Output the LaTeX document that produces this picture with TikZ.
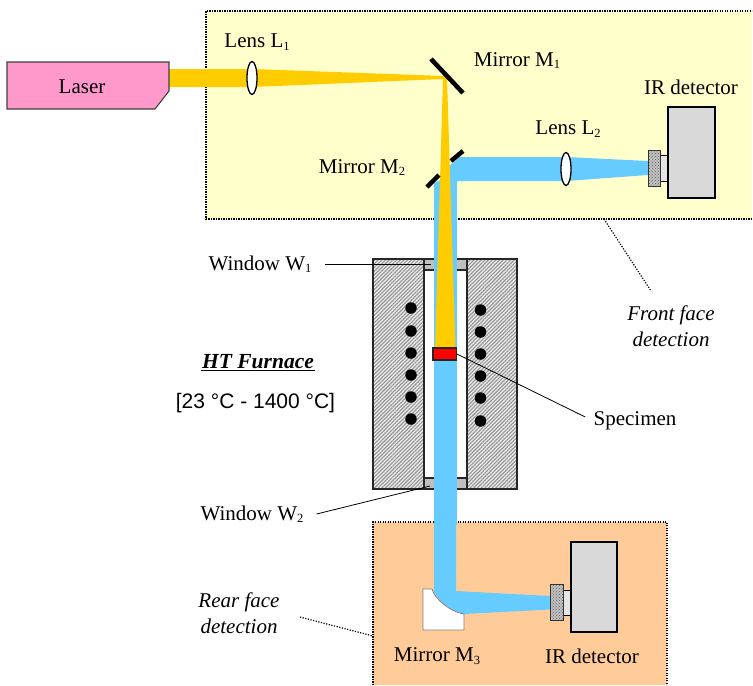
\documentclass[tikz,border=0pt]{standalone}
\usepackage{fontspec}
\setmainfont{Liberation Serif}
\setsansfont{Liberation Sans}
\usetikzlibrary{shapes.geometric,patterns,patterns.meta}
\definecolor{frontbg}{HTML}{FFFFCC}
\definecolor{rearbg}{HTML}{FFCC99}
\definecolor{laserpink}{HTML}{FF99CC}
\definecolor{beamy}{HTML}{FFCC00}
\definecolor{beamb}{HTML}{66CCFF}
\definecolor{detgray}{HTML}{D9D9D9}
\newcommand{\lowsub}[1]{\raisebox{-2.5pt}{\fontsize{12.5}{13}\selectfont #1}}
\tikzset{
  lab/.style={font=\fontsize{21}{25}\selectfont,inner sep=1pt,align=center},
  zone/.style={draw=black,line width=1.1pt,dash pattern=on 1.2pt off 1.3pt},
  lensbody/.style={ellipse,draw=black,fill=white,line width=1.3pt,minimum width=10pt,minimum height=33pt,inner sep=0pt},
  mirrorbar/.style={line width=4.5pt,black},
  block/.style={draw=black!85,line width=1.3pt,preaction={fill=black!8},pattern={Lines[angle=45,distance=2.6pt,line width=1.1pt]},pattern color=black!42},
  windowbox/.style={draw=black!85,line width=1.2pt,fill=black!25},
  heater/.style={circle,fill=black,minimum size=11.5pt,inner sep=0pt},
  detbody/.style={draw=black,line width=1.2pt,fill=detgray},
  neck/.style={draw=black,line width=1pt,fill=black!10},
  sensor/.style={draw=black!80,line width=1pt,pattern=crosshatch dots,pattern color=black!60},
  leader/.style={draw=black,line width=.8pt},
  dotleader/.style={draw=black,line width=1.2pt,dash pattern=on 1.2pt off 1.5pt}
}
\begin{document}
\begin{tikzpicture}[x=1pt,y=-1pt]
\useasboundingbox (0,0) rectangle (753,686);
% zones
\path[fill=frontbg] (206,11) rectangle (752,219);
\draw[zone] (752,219) -- (206,219) -- (206,11) -- (752,11);
\path[fill=rearbg] (373,522) rectangle (667,685);
\draw[zone] (373,685) -- (373,522) -- (667,522) -- (667,685);
% blue beam
\fill[beamb] (434,183) -- (434,592) .. controls (440,603) and (452,611) .. (464,614)
  -- (550,609.5) -- (550,596) -- (456,591) -- (457,181) -- (566,181) -- (648,175) -- (648,161) -- (566,157) -- (460,157) -- (449,166) -- (445,178) -- cycle;
% furnace
\draw[block] (373,259) rectangle (424,489);
\draw[block] (467,259) rectangle (517,489);
\draw[windowbox] (424,259) rectangle (467,270);
\draw[windowbox] (424,478) rectangle (467,489);
\fill[beamb] (434,219) rectangle (456.5,525);
% yellow beam
\fill[beamy] (169,69) -- (252,69) -- (444,76) -- (447,78) -- (455.5,350) -- (435,350) -- (443,79) -- (252,87) -- (169,87) -- cycle;
% laser
\draw[draw=black!75,line width=1.1pt,fill=laserpink] (7,62) -- (169,62) -- (169,91) -- (155,109) -- (7,109) -- cycle;
\node[lab] (laser) at (82,87) {Laser};
% lenses
\node[lensbody] (l1) at (252,78) {};
\node[lensbody] (l2) at (566,169) {};
% mirrors
\draw[mirrorbar] (431,59) -- (463,93);
\draw[mirrorbar] (427,187) -- (439,175);
\draw[mirrorbar] (451,161) -- (463,151);
% front detector
\draw[neck] (660,155) rectangle (668,181);
\draw[detbody] (668,107) rectangle (715,198);
\fill[black!25] (648,150) rectangle (660,186);
\draw[sensor] (648,150) rectangle (660,186);
% rear mirror
\draw[draw=black!50,line width=.8pt,fill=white] (423,589) -- (432,589) .. controls (434,598) and (450,612) .. (464,614) -- (464,630) -- (423,630) -- cycle;
% rear detector
\draw[neck] (563,590) rectangle (571,615);
\draw[detbody] (571,542) rectangle (617,632);
\fill[black!25] (550,584) rectangle (563,620);
\draw[sensor] (550,584) rectangle (563,620);
% specimen
\node[draw=black!85,line width=1.1pt,fill=red,minimum width=23.5pt,minimum height=12pt,inner sep=0pt] (spec) at (444.7,354) {};
% heaters
\foreach \i/\y in {1/308,2/331,3/353,4/375,5/397,6/419}{\node[heater] (hl\i) at (411,\y) {};}
\foreach \i/\y in {1/310,2/332,3/354,4/376,5/398,6/421}{\node[heater] (hr\i) at (480.5,\y) {};}
% labels
\node[lab] (labl1) at (257,42) {Lens L\lowsub{1}};
\node[lab] (labm1) at (517,60.5) {Mirror M\lowsub{1}};
\node[lab] (labl2) at (568,129) {Lens L\lowsub{2}};
\node[lab] (labm2) at (362,167.5) {Mirror M\lowsub{2}};
\node[lab] (labir1) at (691,87) {IR detector};
\node[lab] (labw1) at (260,264) {Window W\lowsub{1}};
\node[lab] (labw2) at (252,514) {Window W\lowsub{2}};
\node[lab] (labspec) at (635,420.5) {Specimen};
\node[lab] (labm3) at (437,656) {Mirror M\lowsub{3}};
\node[lab] (labir2) at (592,656) {IR detector};
\node[lab,font=\fontsize{21.5}{25}\selectfont\bfseries\itshape] (labht) at (258,362) {HT Furnace};
\draw[line width=1pt] ([yshift=-.5pt]labht.south west) -- ([yshift=-.5pt]labht.south east);
\node[lab,font=\fontsize{21}{25}\sffamily\selectfont] (labrange) at (255.5,403) {[23 °C - 1400 °C]};
\node[lab,font=\fontsize{21}{26}\itshape\selectfont] (labfront) at (671,326) {Front face\\detection};
\node[lab,font=\fontsize{21}{26}\itshape\selectfont] (labrear) at (239,613) {Rear face\\detection};
% leaders
\coordinate (w1end) at (431,264);
\coordinate (w2end) at (430,486);
\coordinate (frontend) at (604,219);
\coordinate (rearend) at (373,636);
\coordinate (frontstart) at (651,291);
\coordinate (rearstart) at (300,617);
\draw[leader] (labw1.east) ++(12,0) -- (w1end);
\draw[leader] (labw2.east) ++(12,0) -- (w2end);
\draw[leader,shorten >=8pt] (spec.east) -- (labspec.west);
\draw[dotleader] (frontend) -- (frontstart);
\draw[dotleader] (rearstart) -- (rearend);
\end{tikzpicture}
\end{document}
